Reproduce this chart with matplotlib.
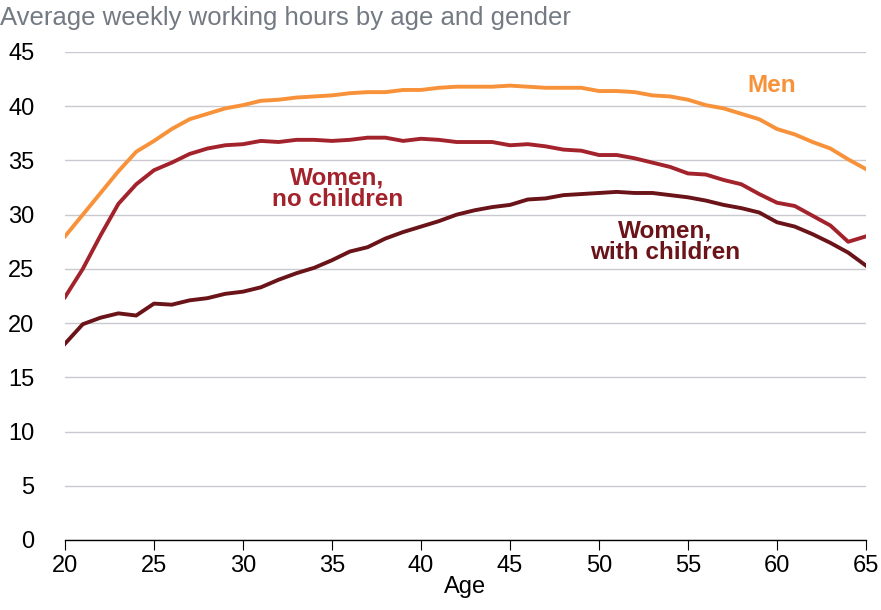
import matplotlib.pyplot as plt

ages = list(range(20, 66))

men = [28.0, 30.0, 32.0, 34.0, 35.8, 36.8, 37.9, 38.8, 39.3, 39.8,
       40.1, 40.5, 40.6, 40.8, 40.9, 41.0, 41.2, 41.3, 41.3, 41.5,
       41.5, 41.7, 41.8, 41.8, 41.8, 41.9, 41.8, 41.7, 41.7, 41.7,
       41.4, 41.4, 41.3, 41.0, 40.9, 40.6, 40.1, 39.8, 39.3, 38.8,
       37.9, 37.4, 36.7, 36.1, 35.1, 34.2]

women_no_children = [22.4, 25.0, 28.1, 31.0, 32.8, 34.1, 34.8, 35.6, 36.1, 36.4,
                     36.5, 36.8, 36.7, 36.9, 36.9, 36.8, 36.9, 37.1, 37.1, 36.8,
                     37.0, 36.9, 36.7, 36.7, 36.7, 36.4, 36.5, 36.3, 36.0, 35.9,
                     35.5, 35.5, 35.2, 34.8, 34.4, 33.8, 33.7, 33.2, 32.8, 31.9,
                     31.1, 30.8, 29.9, 29.0, 27.5, 28.0]

women_with_children = [18.1, 19.9, 20.5, 20.9, 20.7, 21.8, 21.7, 22.1, 22.3, 22.7,
                       22.9, 23.3, 24.0, 24.6, 25.1, 25.8, 26.6, 27.0, 27.8, 28.4,
                       28.9, 29.4, 30.0, 30.4, 30.7, 30.9, 31.4, 31.5, 31.8, 31.9,
                       32.0, 32.1, 32.0, 32.0, 31.8, 31.6, 31.3, 30.9, 30.6, 30.2,
                       29.3, 28.9, 28.2, 27.4, 26.5, 25.3]

x_ticks = list(range(20, 66, 5))
y_ticks = list(range(0, 46, 5))

C_MEN = '#F7923A'
C_NOKIDS = '#A3232C'
C_KIDS = '#6A1318'

plt.rcParams['font.family'] = ['Liberation Sans', 'DejaVu Sans']

fig = plt.figure(figsize=(8.81, 6.10), dpi=100)
ax = fig.add_axes([65/881, 70/610, 801/881, 488/610])

ax.plot(ages, men, color=C_MEN, lw=2.8, solid_joinstyle='round')
ax.plot(ages, women_no_children, color=C_NOKIDS, lw=2.8, solid_joinstyle='round')
ax.plot(ages, women_with_children, color=C_KIDS, lw=2.8, solid_joinstyle='round')

ax.set_xlim(20, 65)
ax.set_ylim(0, 45)
ax.set_xticks(x_ticks)
ax.set_yticks(y_ticks)
ax.grid(axis='y', color='#C9C9D1', lw=1)
ax.set_axisbelow(True)
for s in ['top', 'right', 'left']:
    ax.spines[s].set_visible(False)
ax.spines['bottom'].set_color('black')
ax.spines['bottom'].set_linewidth(1)
ax.tick_params(axis='y', length=0, pad=22, labelsize=17)
ax.tick_params(axis='x', length=7, direction='out', labelsize=17, pad=4)
ax.set_xlabel('Age', fontsize=17, labelpad=-1)

fig.text(0.0, 1 - 18/610, 'Average weekly working hours by age and gender',
         fontsize=18.5, color='#737A83', va='center', ha='left')

# series labels
ax.text(59.7, 41.9, 'Men', color=C_MEN, fontsize=17.5, fontweight='bold',
        ha='center', va='center')
ax.text(35.3, 32.4, 'Women,\nno children', color=C_NOKIDS, fontsize=17.5,
        fontweight='bold', ha='center', va='center', linespacing=0.95)
ax.text(53.7, 27.5, 'Women,\nwith children', color=C_KIDS, fontsize=17.5,
        fontweight='bold', ha='center', va='center', linespacing=0.95)

fig.savefig('out.png', dpi=100)
